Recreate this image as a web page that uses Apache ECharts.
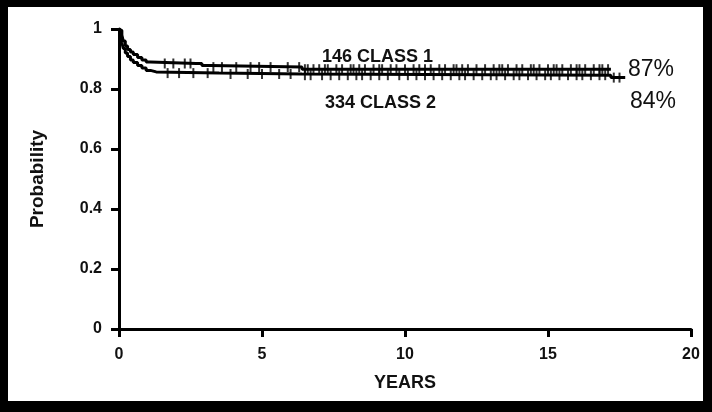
<!doctype html>
<html>
<head>
<meta charset="UTF-8">
<title>Probability by class</title>
<script src="https://cdn.jsdelivr.net/npm/echarts@6/dist/echarts.min.js"></script>
<style>
  html, body { margin: 0; padding: 0; background: #fff; }
  #chart { width: 712px; height: 412px; }
</style>
</head>
<body>
<div id="chart"></div>
<script>
// step curves (years, probability)
var class1Times = [0, 0.05, 0.1, 0.15, 0.22, 0.3, 0.4, 0.5, 0.65, 0.8, 0.95, 1.1, 2.7, 2.9, 3.2, 6.4, 17.2];
var class1Probs = [1, 0.995, 0.98, 0.96, 0.943, 0.932, 0.923, 0.915, 0.905, 0.897, 0.89, 0.885, 0.885, 0.878, 0.873, 0.866, 0.866];
var class2Times = [0, 0.05, 0.1, 0.15, 0.22, 0.3, 0.4, 0.5, 0.65, 0.8, 0.95, 1.1, 1.3, 3.5, 6.4, 17.2, 17.7];
var class2Probs = [1, 0.98, 0.955, 0.935, 0.92, 0.908, 0.897, 0.888, 0.878, 0.87, 0.862, 0.857, 0.853, 0.85, 0.846, 0.838, 0.838];

// censoring marks (years)
var class1Censored = [1.6, 1.9, 2.3, 2.5, 3.3, 3.6, 4.1, 4.6, 4.9, 5.3, 5.9, 6.3, 6.5, 6.6, 6.8, 7.0, 7.2, 7.3, 7.6, 7.8, 8.1, 8.2, 8.4, 8.6, 8.9,
  9.1, 9.2, 9.5, 9.7, 10.0, 10.3, 10.5, 10.7, 10.9, 11.2, 11.4, 11.7, 11.8, 12.0, 12.2, 12.5, 12.8, 13.1, 13.3, 13.4,
  13.6, 13.9, 14.1, 14.4, 14.5, 14.7, 15.0, 15.2, 15.3, 15.5, 15.8, 16.0, 16.1, 16.3, 16.6, 16.8, 16.9, 17.1];
var class2Censored = [1.7, 2.1, 2.6, 3.1, 3.9, 4.5, 5.0, 5.6, 6.0, 6.5, 6.7, 7.1, 7.4, 7.7, 8.0, 8.3, 8.5, 8.8, 9.1, 9.4, 9.8,
  10.1, 10.4, 10.7, 11.0, 11.3, 11.6, 11.9, 12.1, 12.4, 12.7, 13.0, 13.2, 13.5, 13.8, 14.0, 14.3, 14.6, 14.9, 15.1,
  15.4, 15.7, 16.0, 16.2, 16.5, 16.8, 17.0, 17.3, 17.5];

var yTicks = [0, 0.2, 0.4, 0.6, 0.8, 1];
var xTicks = [0, 5, 10, 15, 20];

function pairs(ts, ps) {
  var out = [];
  for (var i = 0; i < ts.length; i++) out.push([ts[i], ps[i]]);
  return out;
}
function probAt(ts, ps, t) {
  var p = ps[0];
  for (var i = 0; i < ts.length; i++) { if (ts[i] <= t) p = ps[i]; }
  return p;
}
function marks(cs, ts, ps) {
  return cs.map(function (t) { return [t, probAt(ts, ps, t)]; });
}

var myChart = echarts.init(document.getElementById('chart'));
var font = 'Liberation Sans, Arial, sans-serif';

myChart.setOption({
  animation: false,
  backgroundColor: '#fff',
  grid: { left: 119, right: 21, top: 29, bottom: 83 },
  xAxis: {
    type: 'value', min: 0, max: 20, interval: 5,
    name: 'YEARS', nameLocation: 'middle', nameGap: 45,
    nameTextStyle: { fontFamily: font, fontWeight: 'bold', fontSize: 18, color: '#111' },
    axisLine: { lineStyle: { color: '#000', width: 3 } },
    axisTick: { length: 8, lineStyle: { color: '#000', width: 3 } },
    axisLabel: { margin: 18, fontFamily: font, fontWeight: 'bold', fontSize: 16, color: '#111',
      formatter: function (v) { return xTicks.indexOf(v) >= 0 ? String(v) : ''; } },
    splitLine: { show: false }
  },
  yAxis: {
    type: 'value', min: 0, max: 1, interval: 0.2,
    name: 'Probability', nameLocation: 'middle', nameGap: 72, nameRotate: 90,
    nameTextStyle: { fontFamily: font, fontWeight: 'bold', fontSize: 19, color: '#111' },
    axisLine: { lineStyle: { color: '#000', width: 3 } },
    axisTick: { length: 8, lineStyle: { color: '#000', width: 3 } },
    axisLabel: { margin: 17, fontFamily: font, fontWeight: 'bold', fontSize: 16, color: '#111',
      formatter: function (v) {
        var r = Math.round(v * 10) / 10;
        return yTicks.indexOf(r) >= 0 ? String(r) : '';
      } },
    splitLine: { show: false }
  },
  series: [
    { name: '146 CLASS 1', type: 'line', step: 'end', showSymbol: false,
      lineStyle: { color: '#000', width: 3 }, data: pairs(class1Times, class1Probs) },
    { name: '334 CLASS 2', type: 'line', step: 'end', showSymbol: false,
      lineStyle: { color: '#000', width: 3 }, data: pairs(class2Times, class2Probs) },
    { type: 'scatter', symbol: 'rect', symbolSize: [2, 10], itemStyle: { color: '#000' },
      data: marks(class1Censored, class1Times, class1Probs) },
    { type: 'scatter', symbol: 'rect', symbolSize: [2, 10], itemStyle: { color: '#000' },
      data: marks(class2Censored, class2Times, class2Probs) }
  ],
  graphic: [
    { type: 'text', left: 322, top: 48, style: { text: '146 CLASS 1', font: 'bold 18px ' + font, fill: '#111' } },
    { type: 'text', left: 325, top: 94, style: { text: '334 CLASS 2', font: 'bold 18px ' + font, fill: '#111' } },
    { type: 'text', left: 628, top: 58, style: { text: '87%', font: '23px ' + font, fill: '#111' } },
    { type: 'text', left: 630, top: 90, style: { text: '84%', font: '23px ' + font, fill: '#111' } },
    // black frame
    { type: 'rect', shape: { x: 0, y: 0, width: 8, height: 412 }, style: { fill: '#000' } },
    { type: 'rect', shape: { x: 0, y: 0, width: 712, height: 7 }, style: { fill: '#000' } },
    { type: 'rect', shape: { x: 703, y: 0, width: 9, height: 412 }, style: { fill: '#000' } },
    { type: 'rect', shape: { x: 0, y: 401, width: 712, height: 11 }, style: { fill: '#000' } }
  ]
});
</script>
</body>
</html>
